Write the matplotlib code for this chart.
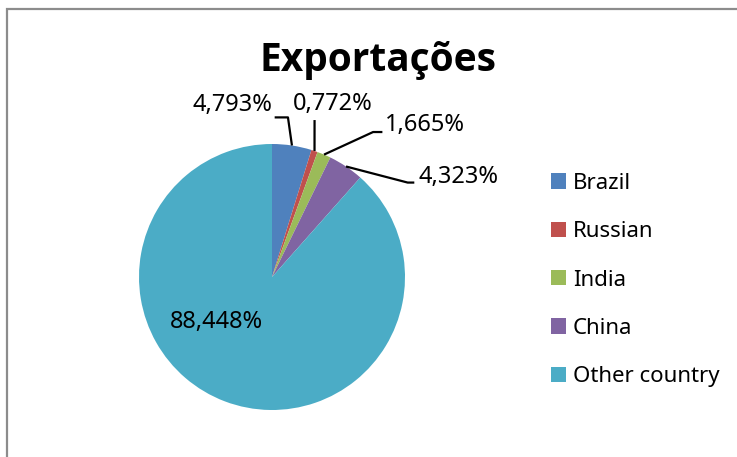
import numpy as np
import matplotlib
matplotlib.use("Agg")
import matplotlib.pyplot as plt
from matplotlib.patches import Patch, Rectangle

plt.rcParams['font.family'] = ['Noto Sans', 'DejaVu Sans']

# Data
countries = ['Brazil', 'Russian', 'India', 'China', 'Other country']
shares = [4.793, 0.772, 1.665, 4.323, 88.448]
labels = ['4,793%', '0,772%', '1,665%', '4,323%', '88,448%']
colors = ['#4F81BD', '#C0504D', '#9BBB59', '#8064A2', '#4BACC6']

W, H = 737, 457
fig = plt.figure(figsize=(W / 100, H / 100), dpi=100)

# chart border (top + left visible)
fig.patches.append(Rectangle((7 / W, -0.2), 1.2, 1.2 - 9 / H,
                             transform=fig.transFigure, fill=False,
                             edgecolor='#8c8c8c', linewidth=1.6))

# pie axes: center (272, 277) px, radius 133 px
cx, cy, r = 272, 277, 133
ax = fig.add_axes([(cx - r) / W, (H - cy - r) / H, 2 * r / W, 2 * r / H])
wedges, _ = ax.pie(shares, colors=colors, startangle=90, counterclock=False,
                   radius=1, wedgeprops=dict(linewidth=0))
ax.set_xlim(-1, 1)
ax.set_ylim(-1, 1)
ax.set_aspect('equal')
ax.axis('off')

# leader lines: elbow point, end point, text position, alignment
callouts = [
    ((0.12, 1.20), (0.02, 1.20), (0.0, 1.29), 'right'),
    ((0.32, 1.18), (0.32, 1.18), (0.46, 1.30), 'center'),
    ((0.76, 1.09), (0.83, 1.09), (0.85, 1.14), 'left'),
    ((1.02, 0.71), (1.07, 0.71), (1.10, 0.755), 'left'),
]

for w, lab, co in zip(wedges[:4], labels[:4], callouts):
    ang = np.deg2rad((w.theta1 + w.theta2) / 2)
    ax_, ay_ = np.cos(ang), np.sin(ang)
    (ex, ey), (fx, fy), (tx, ty), ha = co
    ax.plot([ax_, ex, fx], [ay_, ey, fy], color='black', lw=1.6,
            clip_on=False, solid_capstyle='butt')
    ax.text(tx, ty, lab, ha=ha, va='center', fontsize=17, clip_on=False)

ax.text(-0.42, -0.34, labels[4], ha='center', va='center', fontsize=17)

fig.text(378 / W, 1 - 60 / H, 'Exportações', ha='center', va='center',
         fontsize=28, fontweight='bold', family=['Open Sans', 'DejaVu Sans'])

handles = [Patch(facecolor=c, edgecolor='none') for c in colors]
fig.legend(handles, countries, loc='upper left',
           bbox_to_anchor=(542 / W, 1 - 164 / H), frameon=False,
           fontsize=16, handlelength=0.68, handleheight=0.68,
           handletextpad=0.3, labelspacing=1.23, borderaxespad=0)

fig.savefig('out.png', dpi=100)
